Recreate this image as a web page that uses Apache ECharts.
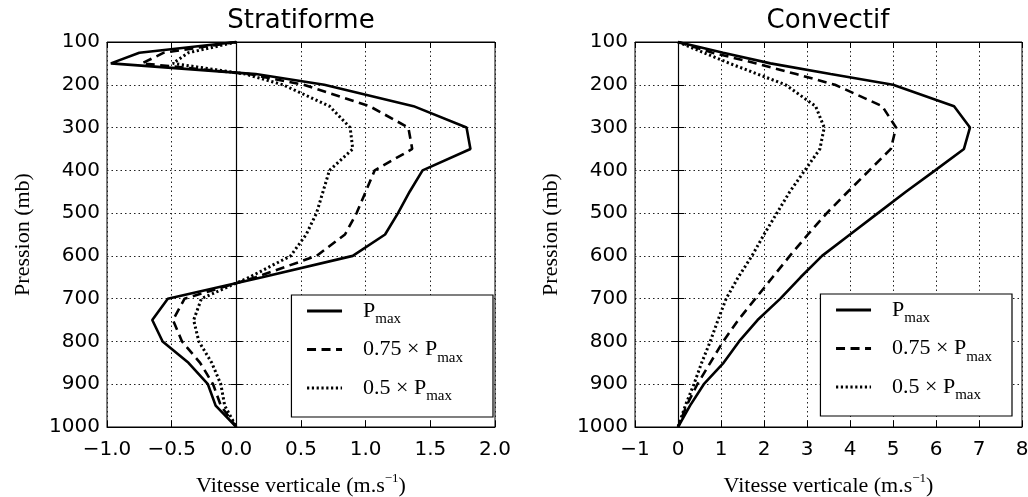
<!DOCTYPE html>
<html>
<head>
<meta charset="utf-8">
<script src="https://cdn.jsdelivr.net/npm/echarts@6/dist/echarts.min.js"></script>
<style>
html,body{margin:0;padding:0;background:#fff;}
#chart{width:1028px;height:497px;}
</style>
</head>
<body>
<div id="chart"></div>
<script>
// ---- data ----
const levels = [100,125,150,175,200,250,300,350,400,450,500,550,600,650,700,750,800,850,900,950,1000];

const stratPmax  = [0.0,-0.75,-0.97,0.15,0.68,1.37,1.78,1.81,1.44,1.34,1.25,1.15,0.90,0.20,-0.53,-0.65,-0.57,-0.37,-0.22,-0.16,0.0];
const strat075   = [0.0,-0.56,-0.73,0.10,0.52,1.03,1.33,1.36,1.07,1.00,0.93,0.84,0.62,0.15,-0.40,-0.49,-0.42,-0.28,-0.18,-0.12,0.0];
const strat05    = [0.0,-0.37,-0.49,0.07,0.36,0.72,0.88,0.90,0.72,0.67,0.62,0.54,0.42,0.10,-0.27,-0.33,-0.29,-0.19,-0.12,-0.09,0.0];

const convPmax   = [0.0,1.05,2.15,3.55,5.00,6.42,6.79,6.65,5.98,5.30,4.65,4.00,3.35,2.85,2.38,1.85,1.42,1.06,0.60,0.28,0.0];
const conv075    = [0.0,0.80,1.82,2.75,3.65,4.75,5.07,4.95,4.45,3.95,3.46,3.02,2.60,2.20,1.80,1.40,1.05,0.75,0.45,0.20,0.0];
const conv05     = [0.0,0.60,1.20,1.85,2.50,3.20,3.40,3.30,2.95,2.60,2.30,2.00,1.72,1.40,1.12,0.93,0.75,0.55,0.37,0.17,0.0];

const seriesNames = ['Pmax','0.75Pmax','0.5Pmax'];
const legendLabels = {
  'Pmax': '{m|P}{s|max}',
  '0.75Pmax': '{m|0.75 × P}{s|max}',
  '0.5Pmax': '{m|0.5 × P}{s|max}'
};
const yTicks = {min:100, max:1000, interval:100};
const xLeft = {min:-1, max:2, interval:0.5};
const xRight = {min:-1, max:8, interval:1};
const titles = ['Stratiforme','Convectif'];

// ---- chart ----
const chart = echarts.init(document.getElementById('chart'), null, {renderer:'canvas'});
const sansFont = 'DejaVu Sans';
const serifFont = 'Liberation Serif';

function pairs(xs){ return xs.map((v,i)=>[v, levels[i]]); }

const lineTypes = [
  {type:'solid', width:2.6},
  {type:[9,5.5], width:2.6},
  {type:[2.2,2.6], width:3}
];

function mkSeries(values, idx, gridIdx){
  const s = {
    type:'line',
    name: seriesNames[idx],
    xAxisIndex: gridIdx*2,
    yAxisIndex: gridIdx*2,
    data: pairs(values),
    symbol:'none',
    showSymbol:false,
    smooth:false,
    z: 5,
    lineStyle: Object.assign({color:'#000'}, lineTypes[idx]),
    itemStyle:{color:'#000'}
  };
  if (idx === 0) {
    s.markLine = {
      silent:true, symbol:['none','none'], animation:false,
      label:{show:false},
      lineStyle:{color:'#000', type:'solid', width:1.2},
      data:[{xAxis:0}]
    };
  }
  return s;
}

const gridDefs = [
  {left:107, top:42, width:388, height:385},
  {left:635, top:42, width:387, height:385}
];

function xAxes(gi, sc){
  const base = {
    type:'value', gridIndex:gi, min:sc.min, max:sc.max, interval:sc.interval,
    axisLine:{show:true, lineStyle:{color:'#000', width:1}},
    axisTick:{show:true, inside:true, length:6, lineStyle:{color:'#000'}},
  };
  return [
    Object.assign({}, base, {
      position:'bottom',
      axisLabel:{show:true, color:'#000', fontFamily:sansFont, fontSize:20, margin:13,
        formatter: v => {
          const s = (sc.interval < 1) ? v.toFixed(1) : String(Math.round(v));
          return s.replace('-', '\u2212');
        }},
      splitLine:{show:true, lineStyle:{color:'#222', type:[1.5,3], width:1}},
      name:'{a|Vitesse verticale (m.s}{s|\u22121}{a|)}',
      nameLocation:'middle', nameGap:45,
      nameTextStyle:{rich:{
        a:{fontFamily:serifFont, fontSize:22, color:'#000', lineHeight:28, verticalAlign:'middle'},
        s:{fontFamily:serifFont, fontSize:13, color:'#000', lineHeight:12, verticalAlign:'top'}
      }}
    }),
    Object.assign({}, base, {
      position:'top',
      axisLabel:{show:false},
      splitLine:{show:false}
    })
  ];
}

function yAxes(gi){
  const base = {
    type:'value', gridIndex:gi, min:yTicks.min, max:yTicks.max, interval:yTicks.interval, inverse:true,
    axisLine:{show:true, lineStyle:{color:'#000', width:1}},
    axisTick:{show:true, inside:true, length:6, lineStyle:{color:'#000'}},
  };
  return [
    Object.assign({}, base, {
      position:'left',
      axisLabel:{show:true, color:'#000', fontFamily:sansFont, fontSize:20, margin:7,
        formatter: v => String(v)},
      splitLine:{show:true, lineStyle:{color:'#222', type:[1.5,3], width:1}},
      name:'Pression (mb)', nameLocation:'middle', nameGap:73,
      nameTextStyle:{fontFamily:serifFont, fontSize:22, color:'#000'}
    }),
    Object.assign({}, base, {
      position:'right',
      axisLabel:{show:false},
      splitLine:{show:false}
    })
  ];
}

function mkLegend(right, top, padRight){
  return {
    show:true, orient:'vertical', right:right, top:top,
    data: seriesNames,
    selectedMode:false,
    itemWidth:35, itemHeight:14, itemGap:11.5,
    padding:[5, padRight, 13, 14],
    borderColor:'#000', borderWidth:1.2, backgroundColor:'#fff',
    itemStyle:{opacity:0, borderWidth:0},
    lineStyle:{width:3.2},
    formatter: n => legendLabels[n],
    textStyle:{
      padding:[0,0,0,16],
      rich:{
        m:{fontFamily:serifFont, fontSize:22, color:'#000', lineHeight:32, verticalAlign:'middle'},
        s:{fontFamily:serifFont, fontSize:15, color:'#000', lineHeight:12, verticalAlign:'bottom'}
      }
    }
  };
}

const option = {
  animation:false,
  backgroundColor:'#fff',
  title: [
    {text:titles[0], left:301, top:8, textAlign:'center', padding:0,
     textStyle:{fontFamily:sansFont, fontSize:26, fontWeight:'normal', color:'#000'}},
    {text:titles[1], left:828, top:8, textAlign:'center', padding:0,
     textStyle:{fontFamily:sansFont, fontSize:26, fontWeight:'normal', color:'#000'}}
  ],
  grid: gridDefs.map(g => Object.assign({show:true, borderColor:'#000', borderWidth:1, containLabel:false, outerBoundsMode:'none'}, g)),
  xAxis: [...xAxes(0, xLeft), ...xAxes(1, xRight)],
  yAxis: [...yAxes(0), ...yAxes(1)],
  legend: [mkLegend(535, 295, 30), mkLegend(16, 294, 20)],
  series: [
    mkSeries(stratPmax, 0, 0), mkSeries(strat075, 1, 0), mkSeries(strat05, 2, 0),
    mkSeries(convPmax, 0, 1), mkSeries(conv075, 1, 1), mkSeries(conv05, 2, 1)
  ]
};
chart.setOption(option);
</script>
</body>
</html>
